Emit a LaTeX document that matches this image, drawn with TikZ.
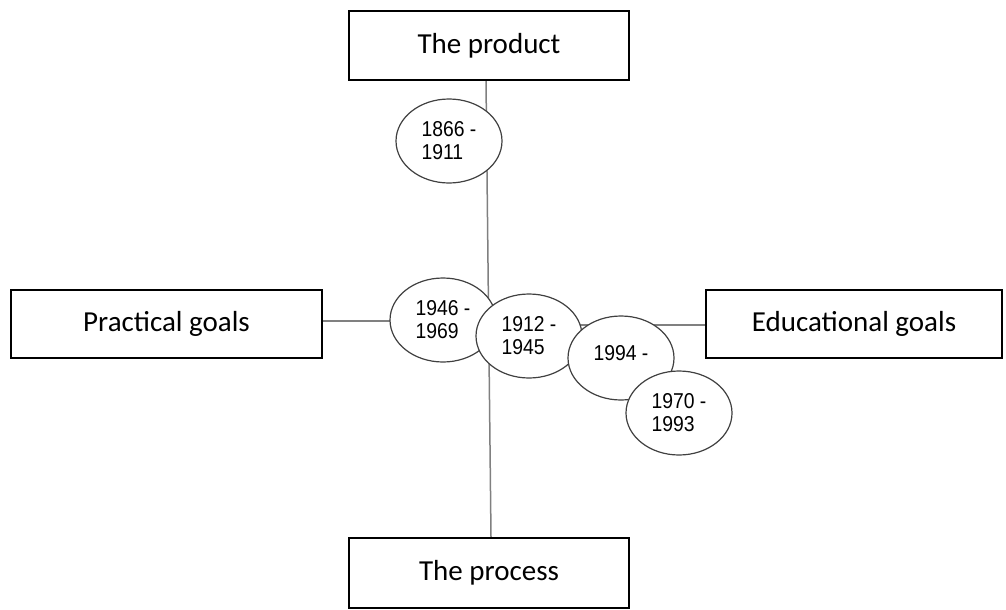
\documentclass[tikz,border=0pt]{standalone}
\usepackage{fontspec}
\setmainfont{Carlito}
\newfontfamily\yearfont[FakeStretch=0.9]{Liberation Sans}
\usetikzlibrary{shapes}
\usetikzlibrary{backgrounds}
\tikzset{
  goalbox/.style={draw=black, line width=2pt, rectangle, inner sep=0pt, font=\fontsize{29}{34}\selectfont},
  yearbubble/.style={draw=black!75, line width=1.2pt, ellipse, fill=white, minimum width=106pt, minimum height=84pt, inner sep=0pt, align=left, font=\yearfont\fontsize{21.5}{23}\selectfont},
  axisline/.style={draw=black!50, line width=1.5pt}
}
\newcommand{\period}[4]{ \node[yearbubble] (#1) at ( #2 , #3 ) {#4};}

\begin{document}
\begin{tikzpicture}[x=1pt, y=-1pt]
        \useasboundingbox (0,0) rectangle (1006,610);
        % goal boxes
        \node[goalbox, minimum width=280pt, minimum height=69pt] (product) at (489,45.5) {\raisebox{5pt}{The product}};
        \node[goalbox, minimum width=280pt, minimum height=70pt] (process) at (489,573) {\raisebox{5pt}{The process}};
        \node[goalbox, minimum width=311pt, minimum height=68pt] (practical) at (166.5,324) {\raisebox{5pt}{Practical goals}};
        \node[goalbox, minimum width=296pt, minimum height=68pt] (educational) at (854,324) {\raisebox{5pt}{Educational goals}};
        % periods
        \period{p1866}{449}{141}{1866 -\\1911}
        \period{p1946}{443}{320}{1946 -\\1969}
        \period{p1912}{529}{336}{1912 -\\1945}
        \period{p1994}{621}{358}{\raisebox{10pt}{1994 -}}
        \period{p1970}{679}{413}{1970 -\\1993}
        % axes
        \begin{scope}[on background layer]
        \draw[axisline] ([xshift=-3pt]product.south) -- ([xshift=2pt]process.north);
        \draw[axisline] ([yshift=3pt]practical.east) -- ([yshift=3pt]p1946.center |- practical.east);
        \draw[axisline] ([yshift=-1pt]p1912.center |- educational.west) -- ([yshift=-1pt]educational.west);
        \end{scope}
\end{tikzpicture}
\end{document}
